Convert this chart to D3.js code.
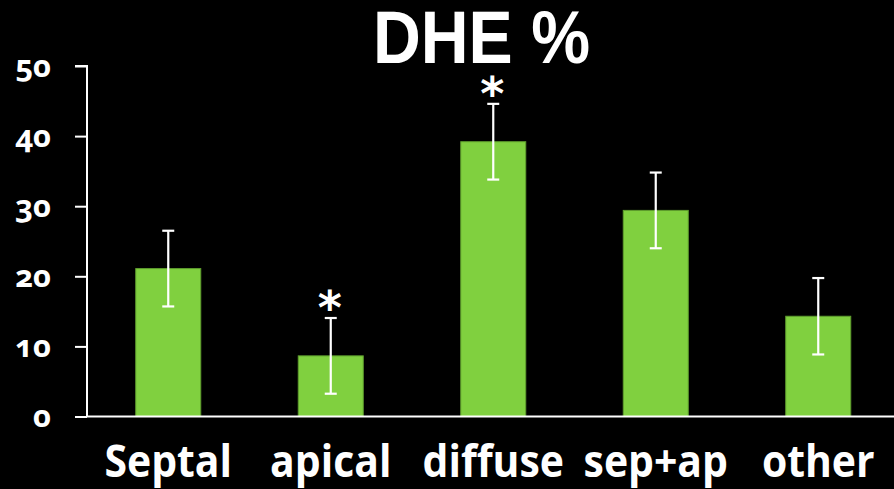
<!DOCTYPE html>
<html>
<head>
<meta charset="utf-8">
<script src="https://cdn.jsdelivr.net/npm/d3@7/dist/d3.min.js"></script>
<style>
  html, body { margin: 0; padding: 0; background: #000; }
  svg { display: block; }
</style>
</head>
<body>
<svg id="chart" width="894" height="489"></svg>
<script>
// Share of DHE-positive cases by pattern, mean ± error
const categories = ["Septal", "apical", "diffuse", "sep+ap", "other"];
const means      = [21.1, 8.65, 39.2, 29.4, 14.3];
const errors     = [5.4, 5.4, 5.4, 5.4, 5.45];
const significant = [false, true, true, false, false];
const yTicks     = [0, 10, 20, 30, 40, 50];
const titleText  = "DHE %";

const svg = d3.select("#chart");
const W = 894, H = 489;
const plotLeft = 87, plotRight = 899.5, plotTop = 66, plotBottom = 416.5;

svg.append("rect").attr("width", W).attr("height", H).attr("fill", "#000");

const x = d3.scaleBand().domain(categories).range([plotLeft, plotRight])
  .paddingInner(0.6).paddingOuter(0.3);
const y = d3.scaleLinear().domain([0, 50]).range([plotBottom, plotTop]);

// Bars
svg.append("g").selectAll("rect").data(categories).join("rect")
  .attr("x", d => x(d))
  .attr("y", (d, i) => y(means[i]))
  .attr("width", x.bandwidth())
  .attr("height", (d, i) => y(0) - y(means[i]))
  .attr("fill", "#80d03f")
  .attr("stroke", "#5f9e2e")
  .attr("stroke-width", 1);

// Error bars
const eb = svg.append("g").attr("stroke", "#fff").attr("stroke-width", 2.2);
categories.forEach((c, i) => {
  const cx = x(c) + x.bandwidth() / 2;
  const hi = y(means[i] + errors[i]), lo = y(means[i] - errors[i]);
  eb.append("line").attr("x1", cx).attr("x2", cx).attr("y1", hi).attr("y2", lo);
  eb.append("line").attr("x1", cx - 6).attr("x2", cx + 6).attr("y1", hi).attr("y2", hi);
  eb.append("line").attr("x1", cx - 6).attr("x2", cx + 6).attr("y1", lo).attr("y2", lo);
});

// Significance marks above the upper error cap
svg.append("g").selectAll("text").data(categories.filter((c, i) => significant[i])).join("text")
  .attr("x", d => x(d) + x.bandwidth() / 2 - 1)
  .attr("y", d => { const i = categories.indexOf(d); return y(means[i] + errors[i]) + 6; })
  .attr("text-anchor", "middle")
  .attr("fill", "#fff")
  .attr("font-family", "DejaVu Sans")
  .attr("font-weight", "bold")
  .attr("font-size", 46)
  .text("*");

// Y axis
const yAxis = svg.append("g").attr("transform", `translate(${plotLeft},0)`)
  .call(d3.axisLeft(y).tickValues(yTicks).tickSize(12).tickPadding(24).tickFormat(d3.format("d")));
yAxis.select(".domain").attr("stroke", "#fff").attr("stroke-width", 2)
  .attr("d", `M-12,${plotTop}H0V${plotBottom}`);
yAxis.selectAll(".tick line").attr("stroke", "#fff").attr("stroke-width", 2);
yAxis.selectAll(".tick text")
  .attr("fill", "#fff")
  .attr("font-family", "Open Sans")
  .attr("font-weight", "bold")
  .attr("font-size", 31)
  .style("font-feature-settings", "'onum' 1")
  .style("font-variant-numeric", "oldstyle-nums")
  .attr("dy", "0.33em");

// X axis baseline
svg.append("line").attr("x1", plotLeft).attr("x2", W).attr("y1", plotBottom).attr("y2", plotBottom)
  .attr("stroke", "#fff").attr("stroke-width", 2);

// Category labels, slightly condensed
svg.append("g").selectAll("text").data(categories).join("text")
  .attr("transform", d => `translate(${x(d) + x.bandwidth() / 2},477) scale(0.93,1)`)
  .attr("text-anchor", "middle")
  .attr("fill", "#fff")
  .attr("font-family", "Open Sans")
  .attr("font-weight", "bold")
  .attr("font-size", 44)
  .text(d => d);

// Title
svg.append("text")
  .attr("x", 481.5).attr("y", 63)
  .attr("text-anchor", "middle")
  .attr("fill", "#fff")
  .attr("font-family", "Liberation Sans")
  .attr("font-weight", "bold")
  .attr("font-size", 74)
  .attr("textLength", 217)
  .attr("lengthAdjust", "spacingAndGlyphs")
  .text(titleText);
</script>
</body>
</html>
